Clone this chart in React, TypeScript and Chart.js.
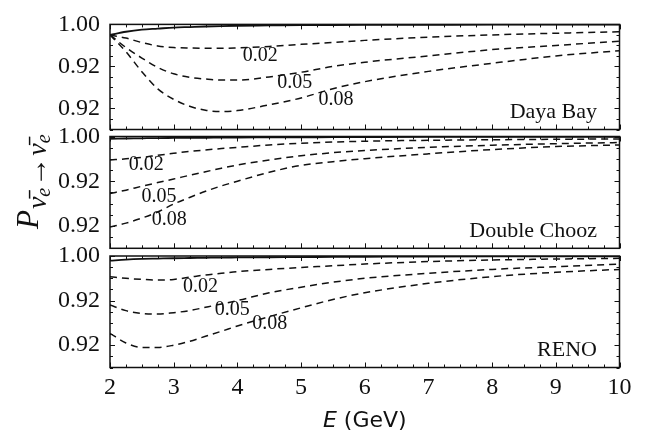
import React, { useEffect, useRef } from "react";
import { Chart, registerables } from "chart.js";

Chart.register(...registerables);

// ---------------- data ----------------
const energies = [2, 2.25, 2.5, 2.75, 3, 3.25, 3.5, 3.75, 4, 4.5, 5, 5.5, 6, 7, 8, 9, 10];

const dayaBayNoMix = [0.99, 0.993, 0.995, 0.996, 0.997, 0.9975, 0.998, 0.9984, 0.9987, 0.999, 0.9993, 0.9994, 0.9995, 0.9996, 0.9997, 0.9997, 0.9998];
const dayaBay002 = [0.99, 0.987, 0.9827, 0.9795, 0.978, 0.9775, 0.9773, 0.9773, 0.9777, 0.979, 0.981, 0.9828, 0.9848, 0.9878, 0.99, 0.9916, 0.993];
const dayaBay005 = [0.99, 0.978, 0.968, 0.959, 0.953, 0.9497, 0.948, 0.947, 0.947, 0.95, 0.9545, 0.96, 0.964, 0.97, 0.976, 0.98, 0.984];
const dayaBay008 = [0.99, 0.974, 0.955, 0.9387, 0.9287, 0.9221, 0.9183, 0.917, 0.918, 0.9235, 0.93, 0.9388, 0.9455, 0.9553, 0.963, 0.97, 0.975];

const doubleChoozNoMix = [0.998, 0.9982, 0.9984, 0.9986, 0.9987, 0.9988, 0.9989, 0.999, 0.9991, 0.9992, 0.9993, 0.9994, 0.9995, 0.9996, 0.9996, 0.9997, 0.9997];
const doubleChooz002 = [0.979, 0.98, 0.9813, 0.9832, 0.985, 0.9866, 0.988, 0.9892, 0.9903, 0.9924, 0.994, 0.995, 0.9958, 0.9966, 0.9971, 0.9975, 0.9978];
const doubleChooz005 = [0.949, 0.952, 0.9555, 0.9588, 0.962, 0.9653, 0.9685, 0.9716, 0.9745, 0.979, 0.9828, 0.9855, 0.9875, 0.9903, 0.9922, 0.9936, 0.9946];
const doubleChooz008 = [0.919, 0.9225, 0.927, 0.9325, 0.9396, 0.9455, 0.951, 0.9558, 0.96, 0.968, 0.9742, 0.9775, 0.9802, 0.9845, 0.9883, 0.991, 0.9924];

const renoNoMix = [0.9958, 0.9968, 0.9974, 0.9977, 0.998, 0.9982, 0.9984, 0.9986, 0.9987, 0.9989, 0.999, 0.9992, 0.9993, 0.9995, 0.9996, 0.9997, 0.9997];
const reno002 = [0.9815, 0.98, 0.979, 0.9785, 0.979, 0.981, 0.983, 0.9845, 0.986, 0.988, 0.9897, 0.9912, 0.9928, 0.995, 0.9964, 0.9973, 0.9979];
const reno005 = [0.956, 0.951, 0.9485, 0.948, 0.9492, 0.951, 0.954, 0.957, 0.96, 0.967, 0.972, 0.9765, 0.98, 0.9845, 0.988, 0.9904, 0.9928];
const reno008 = [0.9307, 0.922, 0.918, 0.918, 0.92, 0.9235, 0.928, 0.9325, 0.9372, 0.9456, 0.9535, 0.961, 0.967, 0.9755, 0.9815, 0.9854, 0.988];

const curveLabels = ["0.02", "0.05", "0.08"];
const dayaBayLabelE = [4.36, 4.9, 5.55];
const dayaBayLabelP = [0.97, 0.9445, 0.928];
const doubleChoozLabelE = [2.57, 2.77, 2.93];
const doubleChoozLabelP = [0.9745, 0.9463, 0.9253];
const renoLabelE = [3.42, 3.92, 4.51];
const renoLabelP = [0.9726, 0.9516, 0.9395];

const panelNames = ["Daya Bay", "Double Chooz", "RENO"];
const xMin = 2;
const xMax = 10;
const yMin = 0.9;
const yMax = 1.0;
const yTickValues = [0.92, 0.96, 1.0];
const yTickLabels = ["0.92", "0.92", "1.00"];

// ---------------- layout ----------------
const W = 652;
const H = 437;
const PLOT_LEFT = 110;
const PLOT_RIGHT = 619.5;

const panels = [
  { name: panelNames[0], top: 17.3, bottom: 129.5, series: [dayaBayNoMix, dayaBay002, dayaBay005, dayaBay008], labelE: dayaBayLabelE, labelP: dayaBayLabelP, xAxis: false, yTitle: false },
  { name: panelNames[1], top: 136.5, bottom: 248.3, series: [doubleChoozNoMix, doubleChooz002, doubleChooz005, doubleChooz008], labelE: doubleChoozLabelE, labelP: doubleChoozLabelP, xAxis: false, yTitle: true },
  { name: panelNames[2], top: 256, bottom: 367.5, series: [renoNoMix, reno002, reno005, reno008], labelE: renoLabelE, labelP: renoLabelP, xAxis: true, yTitle: false },
];

const X_AXIS_H = 40;
const INK = "#111";
const SERIF = "'Liberation Serif', 'Times New Roman', serif";

const decorPlugin = {
  id: "decor",
  afterDraw(chart: any, _args: any, opts: any) {
    const { ctx, chartArea: a, scales } = chart;
    const xs = scales.x;
    const ys = scales.y;
    ctx.save();
    ctx.strokeStyle = INK;
    ctx.lineWidth = 1;
    ctx.beginPath();
    for (let k = 0; k <= (xMax - xMin) * 4; k++) {
      const v = xMin + k * 0.25;
      const px = Math.round(xs.getPixelForValue(v)) + 0.5;
      const len = k % 4 === 0 ? 5 : 3;
      ctx.moveTo(px, a.bottom);
      ctx.lineTo(px, a.bottom - len);
      ctx.moveTo(px, a.top);
      ctx.lineTo(px, a.top + len);
    }
    for (let k = 0; k <= 10; k++) {
      const v = yMin + k * 0.01;
      const py = Math.round(ys.getPixelForValue(v)) + 0.5;
      const major = yTickValues.some((t) => Math.abs(t - v) < 1e-9);
      const len = major ? 5 : 3;
      ctx.moveTo(a.left, py);
      ctx.lineTo(a.left + len, py);
      ctx.moveTo(a.right, py);
      ctx.lineTo(a.right - len, py);
    }
    ctx.stroke();
    ctx.lineWidth = 1.5;
    ctx.strokeRect(a.left, a.top, a.right - a.left, a.bottom - a.top);

    ctx.fillStyle = INK;
    ctx.font = `20px ${SERIF}`;
    ctx.textAlign = "center";
    ctx.textBaseline = "middle";
    opts.labelE.forEach((e: number, i: number) => {
      ctx.fillText(curveLabels[i], xs.getPixelForValue(e), ys.getPixelForValue(opts.labelP[i]));
    });

    ctx.font = `22px ${SERIF}`;
    ctx.textAlign = "right";
    ctx.textBaseline = "alphabetic";
    ctx.fillText(opts.name, a.right - 22.5, a.bottom - 11.5);

    if (opts.xAxis) {
      const cx = (a.left + a.right) / 2;
      const base = a.bottom + 59.5;
      ctx.font = "italic 22px 'DejaVu Sans'";
      const w1 = ctx.measureText("E ").width;
      ctx.font = "22px 'DejaVu Sans'";
      const w2 = ctx.measureText("(GeV)").width;
      const x0 = cx - (w1 + w2) / 2;
      ctx.textAlign = "left";
      ctx.font = "italic 22px 'DejaVu Sans'";
      ctx.fillText("E ", x0, base);
      ctx.font = "22px 'DejaVu Sans'";
      ctx.fillText("(GeV)", x0 + w1, base);
    }

    if (opts.yTitle) {
      ctx.translate(38, 229);
      ctx.rotate(-Math.PI / 2);
      ctx.textAlign = "left";
      ctx.textBaseline = "alphabetic";
      let cur = 0;
      const put = (t: string, font: string, dy: number, gap = 0) => {
        ctx.font = font;
        ctx.fillText(t, cur, dy);
        cur += ctx.measureText(t).width + gap;
      };
      put("P", `italic 31px ${SERIF}`, 0, 1);
      put("\u03BD\u0304", `italic 28px ${SERIF}`, 8);
      put("e", `italic 20px ${SERIF}`, 12, 1);
      put("\u2192", `30px ${SERIF}`, 8, 1);
      put("\u03BD\u0304", `italic 28px ${SERIF}`, 8);
      put("e", `italic 20px ${SERIF}`, 12);
    }
    ctx.restore();
  },
};

function PanelChart({ panel }: { panel: any }) {
  const ref = useRef<HTMLCanvasElement>(null);
  useEffect(() => {
    if (!ref.current) return;
    const styles = [
      { borderWidth: 1.8, borderDash: [] as number[] },
      { borderWidth: 1.5, borderDash: [7, 5] },
      { borderWidth: 1.5, borderDash: [7, 5] },
      { borderWidth: 1.5, borderDash: [7, 5] },
    ];
    const datasets = panel.series.map((arr: number[], i: number) => ({
      data: energies.map((e, j) => ({ x: e, y: arr[j] })),
      borderColor: INK,
      borderWidth: styles[i].borderWidth,
      borderDash: styles[i].borderDash,
      pointRadius: 0,
      fill: false,
      cubicInterpolationMode: "monotone",
    }));
    const bottomPad = H - panel.bottom - (panel.xAxis ? X_AXIS_H : 0);
    const chart = new Chart(ref.current, {
      type: "line",
      data: { datasets },
      plugins: [decorPlugin],
      options: {
        responsive: false,
        animation: false,
        layout: { padding: { left: 0, right: W - PLOT_RIGHT, top: panel.top, bottom: bottomPad } },
        plugins: {
          legend: { display: false },
          tooltip: { enabled: false },
          decor: { name: panel.name, labelE: panel.labelE, labelP: panel.labelP, xAxis: panel.xAxis, yTitle: panel.yTitle },
        } as any,
        scales: {
          x: {
            type: "linear",
            min: xMin,
            max: xMax,
            display: panel.xAxis,
            grid: { display: false, drawTicks: false },
            border: { display: false },
            ticks: {
              stepSize: 1,
              autoSkip: false,
              maxRotation: 0,
              padding: 6,
              color: INK,
              font: { family: SERIF, size: 24 },
            },
            afterFit: (s: any) => {
              s.height = panel.xAxis ? X_AXIS_H : 0;
            },
          },
          y: {
            type: "linear",
            min: yMin,
            max: yMax,
            grid: { display: false, drawTicks: false },
            border: { display: false },
            afterBuildTicks: (s: any) => {
              s.ticks = yTickValues.map((v) => ({ value: v }));
            },
            afterFit: (s: any) => {
              s.width = PLOT_LEFT;
            },
            ticks: {
              padding: 10,
              color: INK,
              font: { family: SERIF, size: 24 },
              callback: (v: any) => {
                const i = yTickValues.findIndex((t) => Math.abs(t - Number(v)) < 1e-9);
                return i >= 0 ? yTickLabels[i] : "";
              },
            },
          },
        },
      } as any,
    });
    return () => chart.destroy();
  }, [panel]);
  return (
    <canvas
      ref={ref}
      width={W}
      height={H}
      style={{ position: "absolute", left: 0, top: 0, width: W, height: H, display: "block" }}
    />
  );
}

export default function App() {
  return (
    <div style={{ position: "absolute", left: 0, top: 0, width: W, height: H, background: "#fff" }}>
      {panels.map((p, i) => (
        <PanelChart key={i} panel={p} />
      ))}
    </div>
  );
}
